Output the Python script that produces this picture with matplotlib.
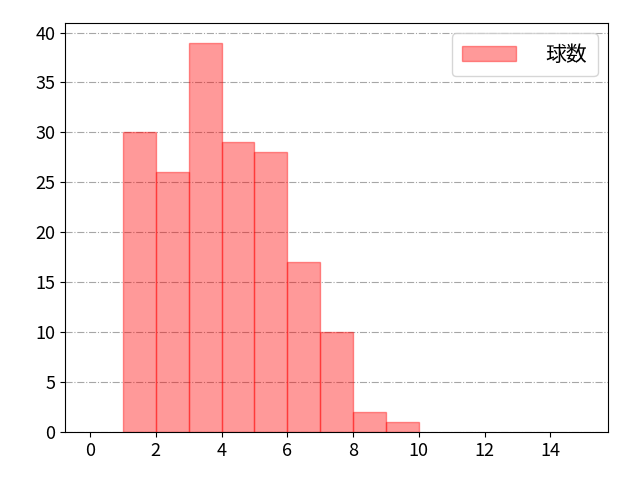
import matplotlib
matplotlib.use("Agg")
import matplotlib.pyplot as plt

plt.rcParams['font.family'] = ['Noto Sans CJK JP', 'DejaVu Sans']

# bin left edges and counts
bin_left = [1, 2, 3, 4, 5, 6, 7, 8, 9]
counts = [30, 26, 39, 29, 28, 17, 10, 2, 1]
xticks = [0, 2, 4, 6, 8, 10, 12, 14]
yticks = [0, 5, 10, 15, 20, 25, 30, 35, 40]

fig = plt.figure(figsize=(6.4, 4.8), dpi=100)
ax = fig.add_axes([0.102, 0.1, 0.848, 0.852])

ax.bar(bin_left, counts, width=1, align='edge', color='red', alpha=0.4,
       edgecolor='red', linewidth=1, label='球数')

ax.set_xlim(-0.75, 15.75)
ax.set_ylim(0, 40.95)
ax.set_xticks(xticks)
ax.set_yticks(yticks)
ax.tick_params(labelsize=13)
ax.grid(axis='y', linestyle='-.', alpha=0.7, color='gray')
ax.set_axisbelow(True)
ax.legend(loc='upper right', fontsize=15, handlelength=2.6, handletextpad=1.4,
          borderpad=0.5)

plt.savefig("out.png")
